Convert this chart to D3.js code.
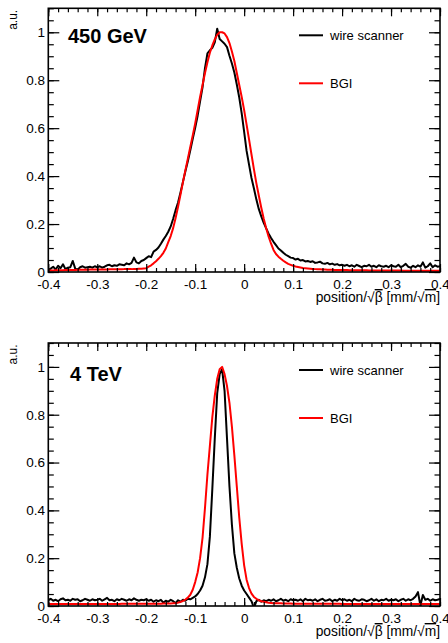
<!DOCTYPE html>
<html>
<head>
<meta charset="utf-8">
<script src="https://cdn.jsdelivr.net/npm/d3@7"></script>
<style>
  body { margin: 0; background: #fff; }
  text { font-family: "Liberation Sans", Arial, Helvetica, sans-serif; }
</style>
</head>
<body>
<div id="chart"></div>
<script>
// position grid of the profiles: -0.4 .. 0.4 in steps of 0.005
const xStart = -0.4
const xStep = 0.005

const xTicks = [-0.4, -0.3, -0.2, -0.1, 0, 0.1, 0.2, 0.3, 0.4]
const yTicks = [0, 0.2, 0.4, 0.6, 0.8, 1]
const seriesNames = ['wire scanner', 'BGI']
const panelTitles = ['450 GeV', '4 TeV']

// 450 GeV
const ws450 = [
  0.008,0.014,0.022,0.010,0.026,0.016,0.032,0.012,0.018,0.020,0.046,0.014,0.010,0.020,0.024,0.018,0.020,0.022,0.018,0.024,
  0.020,0.024,0.018,0.022,0.028,0.030,0.024,0.028,0.026,0.032,0.030,0.028,0.036,0.032,0.038,0.060,0.040,0.036,0.046,0.050,
  0.058,0.066,0.062,0.085,0.092,0.102,0.118,0.135,0.150,0.168,0.190,0.222,0.258,0.290,0.332,0.376,0.420,0.462,0.508,0.556,
  0.602,0.652,0.712,0.770,0.850,0.912,0.925,0.935,0.958,1.015,0.972,0.962,0.952,0.938,0.902,0.870,0.832,0.782,0.728,0.662,
  0.585,0.505,0.448,0.392,0.348,0.302,0.262,0.232,0.205,0.182,0.160,0.142,0.126,0.112,0.098,0.090,0.080,0.072,0.066,0.060,
  0.058,0.052,0.055,0.048,0.050,0.044,0.046,0.042,0.045,0.038,0.040,0.043,0.036,0.034,0.038,0.032,0.035,0.030,0.033,0.028,
  0.030,0.026,0.030,0.024,0.028,0.022,0.030,0.025,0.020,0.026,0.024,0.030,0.022,0.026,0.020,0.028,0.024,0.022,0.026,0.020,
  0.028,0.024,0.022,0.030,0.020,0.026,0.034,0.022,0.018,0.026,0.020,0.028,0.022,0.040,0.018,0.024,0.036,0.020,0.028,0.022,
  0.024
]
const bgi450 = [
  0.006,0.006,0.006,0.007,0.007,0.007,0.007,0.008,0.008,0.008,0.008,0.008,0.009,0.009,0.009,0.009,0.009,0.010,0.010,0.010,
  0.010,0.010,0.010,0.010,0.010,0.011,0.011,0.011,0.011,0.011,0.011,0.012,0.012,0.012,0.012,0.013,0.013,0.014,0.014,0.015,
  0.016,0.022,0.028,0.036,0.045,0.055,0.066,0.080,0.098,0.125,0.150,0.183,0.225,0.272,0.323,0.375,0.425,0.473,0.522,0.570,
  0.620,0.675,0.730,0.780,0.830,0.875,0.915,0.945,0.970,0.990,1.000,1.000,0.995,0.980,0.955,0.920,0.880,0.830,0.780,0.730,
  0.675,0.615,0.553,0.490,0.428,0.370,0.318,0.268,0.222,0.183,0.147,0.118,0.092,0.075,0.064,0.055,0.047,0.040,0.034,0.030,
  0.026,0.023,0.021,0.019,0.017,0.016,0.015,0.014,0.013,0.012,0.011,0.011,0.010,0.010,0.009,0.009,0.009,0.008,0.008,0.008,
  0.008,0.008,0.008,0.007,0.007,0.007,0.007,0.007,0.007,0.007,0.007,0.006,0.006,0.006,0.006,0.006,0.006,0.006,0.006,0.006,
  0.006,0.006,0.006,0.006,0.006,0.005,0.005,0.005,0.005,0.005,0.005,0.005,0.005,0.005,0.005,0.005,0.005,0.005,0.005,0.005,
  0.005
]

// 4 TeV
const ws4 = [
  0.024,0.030,0.022,0.026,0.020,0.028,0.032,0.024,0.026,0.022,0.030,0.026,0.028,0.020,0.024,0.030,0.026,0.022,0.028,0.024,
  0.026,0.030,0.022,0.028,0.034,0.024,0.026,0.020,0.028,0.024,0.030,0.026,0.022,0.028,0.024,0.032,0.026,0.022,0.026,0.024,
  0.028,0.022,0.026,0.018,0.024,0.020,0.026,0.014,0.022,0.018,0.026,0.020,0.012,0.024,0.018,0.026,0.022,0.030,0.028,0.034,
  0.040,0.050,0.065,0.085,0.120,0.175,0.290,0.490,0.700,0.890,0.970,0.990,0.900,0.700,0.500,0.340,0.220,0.160,0.115,0.085,
  0.065,0.050,0.035,0.020,-0.008,0.020,0.026,0.018,0.024,0.020,0.026,0.022,0.028,0.020,0.024,0.030,0.022,0.026,0.020,0.028,
  0.024,0.026,0.022,0.028,0.020,0.030,0.024,0.026,0.022,0.028,0.020,0.026,0.030,0.022,0.024,0.028,0.020,0.026,0.022,0.030,
  0.024,0.028,0.022,0.026,0.020,0.030,0.024,0.022,0.028,0.026,0.020,0.024,0.030,0.022,0.028,0.020,0.026,0.024,0.030,0.022,
  0.026,0.024,0.028,0.020,0.026,0.030,0.022,0.028,0.024,0.030,0.040,0.058,0.002,0.046,0.026,0.030,0.022,0.028,0.024,0.026,
  0.030
]
const bgi4 = [
  0.008,0.008,0.008,0.008,0.008,0.008,0.008,0.008,0.008,0.008,0.008,0.008,0.008,0.008,0.008,0.008,0.008,0.008,0.008,0.008,
  0.008,0.008,0.008,0.008,0.008,0.008,0.008,0.008,0.008,0.008,0.009,0.009,0.009,0.009,0.009,0.009,0.009,0.009,0.009,0.009,
  0.009,0.009,0.009,0.009,0.009,0.009,0.009,0.010,0.010,0.010,0.010,0.011,0.012,0.014,0.017,0.021,0.027,0.035,0.047,0.068,
  0.100,0.140,0.200,0.285,0.410,0.550,0.670,0.790,0.880,0.950,0.990,1.000,0.970,0.920,0.850,0.750,0.630,0.500,0.370,0.260,
  0.170,0.110,0.075,0.052,0.038,0.030,0.024,0.020,0.018,0.016,0.014,0.013,0.012,0.012,0.011,0.011,0.010,0.010,0.010,0.010,
  0.009,0.009,0.009,0.009,0.009,0.009,0.009,0.009,0.009,0.009,0.009,0.009,0.009,0.009,0.009,0.009,0.009,0.009,0.009,0.009,
  0.008,0.008,0.008,0.008,0.008,0.008,0.008,0.008,0.008,0.008,0.008,0.008,0.008,0.008,0.008,0.008,0.008,0.008,0.008,0.008,
  0.008,0.008,0.008,0.008,0.008,0.008,0.008,0.008,0.008,0.008,0.008,0.008,0.008,0.008,0.008,0.008,0.008,0.008,0.008,0.008,
  0.008
]

// layout
const dim = { width: 448, height: 643, left: 48.3, right: 440 }
const panels = [
  { title: panelTitles[0], ws: ws450, bgi: bgi450, top: 8.3, bottom: 272, titleX: 68, titleY: 43.3 },
  { title: panelTitles[1], ws: ws4, bgi: bgi4, top: 343, bottom: 606, titleX: 70, titleY: 380.5 }
]
const colors = ['#000000', '#ff0000']

const svg = d3.select('#chart')
  .append('svg')
  .attr('width', dim.width)
  .attr('height', dim.height)

const fmt = d => String(d)

panels.forEach((p, pi) => {
  const x = d3.scaleLinear().domain([-0.4, 0.4]).range([dim.left, dim.right])
  const y = d3.scaleLinear().domain([0, 1.1]).range([p.bottom, p.top])

  const g = svg.append('g')

  // clip for curves
  const clipId = 'clip' + pi
  g.append('clipPath').attr('id', clipId)
    .append('rect')
    .attr('x', dim.left).attr('y', p.top)
    .attr('width', dim.right - dim.left).attr('height', p.bottom - p.top)

  const line = d3.line()
    .x((d, i) => x(xStart + i * xStep))
    .y(d => y(d))

  const curves = g.append('g').attr('clip-path', `url(#${clipId})`)
  curves.append('path')
    .datum(p.ws)
    .attr('d', line)
    .attr('fill', 'none')
    .attr('stroke', colors[0])
    .attr('stroke-width', 2)
    .attr('stroke-linejoin', 'round')
  curves.append('path')
    .datum(p.bgi)
    .attr('d', line)
    .attr('fill', 'none')
    .attr('stroke', colors[1])
    .attr('stroke-width', 2)
    .attr('stroke-linejoin', 'round')

  // axes, ticks inside the frame
  const axes = g.append('g').attr('class', 'axes')
  axes.append('g')
    .attr('transform', `translate(0,${p.bottom})`)
    .call(d3.axisBottom(x).tickValues(xTicks).tickSize(-8).tickPadding(7).tickFormat(fmt))
  axes.append('g')
    .attr('transform', `translate(0,${p.bottom})`)
    .call(d3.axisBottom(x).ticks(40).tickSize(-4).tickFormat(''))
  axes.append('g')
    .attr('transform', `translate(0,${p.top})`)
    .call(d3.axisTop(x).tickValues(xTicks).tickSize(-8).tickFormat(''))
  axes.append('g')
    .attr('transform', `translate(0,${p.top})`)
    .call(d3.axisTop(x).ticks(40).tickSize(-4).tickFormat(''))

  axes.append('g')
    .attr('transform', `translate(${dim.left},0)`)
    .call(d3.axisLeft(y).tickValues(yTicks).tickSize(-11).tickPadding(3.3).tickFormat(fmt))
  axes.append('g')
    .attr('transform', `translate(${dim.left},0)`)
    .call(d3.axisLeft(y).ticks(20).tickSize(-5.5).tickFormat(''))
  axes.append('g')
    .attr('transform', `translate(${dim.right},0)`)
    .call(d3.axisRight(y).tickValues(yTicks).tickSize(-11).tickFormat(''))
  axes.append('g')
    .attr('transform', `translate(${dim.right},0)`)
    .call(d3.axisRight(y).ticks(20).tickSize(-5.5).tickFormat(''))

  axes.selectAll('.domain').remove()
  axes.selectAll('line').attr('stroke', '#000').attr('stroke-width', 1.2)
  axes.selectAll('text')
    .attr('fill', '#000')
    .style('font-family', '"Liberation Sans", Arial, Helvetica, sans-serif')
    .style('font-size', '13.5px')

  // frame
  g.append('rect')
    .attr('x', dim.left).attr('y', p.top)
    .attr('width', dim.right - dim.left).attr('height', p.bottom - p.top)
    .attr('fill', 'none')
    .attr('stroke', '#000')
    .attr('stroke-width', 1.6)

  // y title
  g.append('text')
    .attr('transform', `translate(17,${p.top + 1.5}) rotate(-90)`)
    .attr('text-anchor', 'end')
    .style('font-size', '12px')
    .text('a.u.')

  // x title
  const xt = g.append('text')
    .attr('x', dim.right)
    .attr('y', p.bottom + 30)
    .attr('text-anchor', 'end')
    .style('font-size', '13.8px')
  xt.append('tspan').text('position/√')
  xt.append('tspan').style('text-decoration', 'overline').text('β')
  xt.append('tspan').text(' [mm/√')
  xt.append('tspan').style('text-decoration', 'overline').text('m')
  xt.append('tspan').text(']')

  // panel title
  g.append('text')
    .attr('x', p.titleX)
    .attr('y', p.titleY)
    .style('font-size', '20px')
    .style('font-weight', 'bold')
    .text(p.title)

  // legend
  const leg = g.append('g')
  seriesNames.forEach((name, i) => {
    const ly = p.top + 27 + i * 48
    leg.append('line')
      .attr('x1', 299).attr('x2', 323)
      .attr('y1', ly).attr('y2', ly)
      .attr('stroke', colors[i])
      .attr('stroke-width', 2)
    leg.append('text')
      .attr('x', 330)
      .attr('y', ly + 4.5)
      .style('font-size', '13px')
      .text(name)
  })
})
</script>
</body>
</html>
